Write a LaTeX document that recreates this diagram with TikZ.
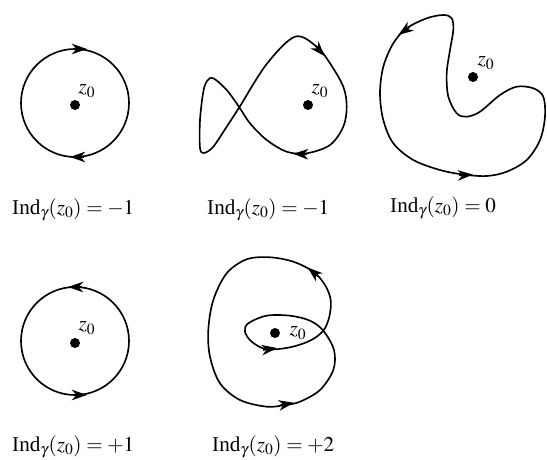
\documentclass[tikz,border=0pt]{standalone}
\usepackage{mathptmx}
\usepackage{fontspec}
\setmainfont{Liberation Serif}
\usepackage{tikz}
\usetikzlibrary{arrows.meta}
\usetikzlibrary{positioning}

\tikzset{
  curve/.style={line width=1.4pt, line join=round},
  arrowmark/.style={line width=1.4pt, -{Stealth[length=13pt,width=9pt,inset=4pt]}},
  dot/.style={circle, fill, inner sep=0pt, minimum size=0.3cm},
  zlab/.style={font=\fontsize{18}{21}\selectfont, inner sep=0pt},
  indlab/.style={font=\fontsize{18}{21}\selectfont, anchor=west, inner sep=0pt},
}
% arrowhead sitting on a curve at #1, pointing along #2 (degrees, clockwise)
\newcommand{\arrowon}[2]{\draw[arrowmark] (#1) ++(#2+180:7) -- ++(#2:14);}

\begin{document}
\begin{tikzpicture}[x=0.03cm, y=-0.03cm]
    \useasboundingbox (0,0) rectangle (547,460);

    % winding -1, circle
    \draw[curve] (75,103) circle (54);
    \arrowon{80,49}{0}
    \arrowon{77,157}{180}
    \node[dot] (p1) at (75,105) {};
    \node[zlab] (z1) at (87,91) {$z_0$};

    % winding -1, fish
    \draw[curve] plot[smooth cycle, tension=0.55] coordinates {
      (239.3,107.3) (266.7,64) (295,36.7) (316.7,46.7) (330,63.3)
      (343.3,86.7) (346.7,106.7) (343.3,126.7) (330,145) (306.7,153.3)
      (286.7,151.7) (266.7,140) (250,123.3) (239.3,107.3) (226.7,90)
      (213.3,78.3) (207,81) (203.3,91.7) (200,120) (200,148)
      (204,153) (213.3,146.7) (226.7,126.7)};
    \arrowon{320,51}{48}
    \arrowon{300,154}{182}
    \node[dot] (p2) at (308,105) {};
    \node[zlab] (z2) at (320,91) {$z_0$};

    % winding 0
    \draw[curve] plot[smooth cycle, tension=0.55] coordinates {
      (393.3,43.3) (406.7,28.3) (426.7,18.3) (443.3,15) (451.7,18.3)
      (453.3,30) (450,50) (446.7,73.3) (448.3,96.7) (456.7,113.3)
      (466.7,116.7) (480,111.7) (500,95) (516.7,86.7) (533.3,88.3)
      (543.3,96.7) (545,116.7) (540,140) (526.7,160) (506.7,171.7)
      (486.7,176) (463.3,174.5) (440,170) (413.3,160) (393.3,143.3)
      (383.3,120) (380,93.3) (383.3,66.7)};
    \arrowon{404,31}{145}
    \arrowon{466,175}{-3}
    \node[dot] (p3) at (473,77) {};
    \node[zlab] (z3) at (486,63) {$z_0$};

    % winding +1, circle
    \draw[curve] (75,341) circle (54);
    \arrowon{75,287}{180}
    \arrowon{80,395}{0}
    \node[dot] (p4) at (75,343) {};
    \node[zlab] (z4) at (87,328) {$z_0$};

    % winding +2
    \draw[curve] plot[smooth cycle, tension=0.55] coordinates {
      (285,405) (300,401.7) (320,390) (333.3,370) (334,350)
      (323.3,330.7) (310,320.7) (290,315.7) (266.7,315.7) (248.3,323.3)
      (245,331.7) (251.7,341.7) (266.7,349.3) (290,347.3) (310,340.7)
      (323.3,330.7) (329.3,316.7) (330.7,300) (325,285) (313.3,271.7)
      (293.3,261.7) (270,257.3) (246.7,259.3) (226.7,273.3) (213.3,300)
      (208.3,330) (210,356.7) (220,383.3) (240,400) (266.7,406.7)};
    \arrowon{313,272}{220}
    \arrowon{270,349}{-8}
    \arrowon{287,404}{-10}
    \node[dot] (p5) at (275,333) {};
    \node[zlab] (z5) at (298,333) {$z_0$};

    % indices
    \node[indlab] (i1) at (12,210) {Ind$_\gamma(z_0) = -1$};
    \node[indlab] (i2) at (207,210) {Ind$_\gamma(z_0) = -1$};
    \node[indlab] (i3) at (390,208) {Ind$_\gamma(z_0) = 0$};
    \node[indlab] (i4) at (12,447) {Ind$_\gamma(z_0) = +1$};
    \node[indlab] (i5) at (212,447) {Ind$_\gamma(z_0) = +2$};
\end{tikzpicture}
\end{document}
